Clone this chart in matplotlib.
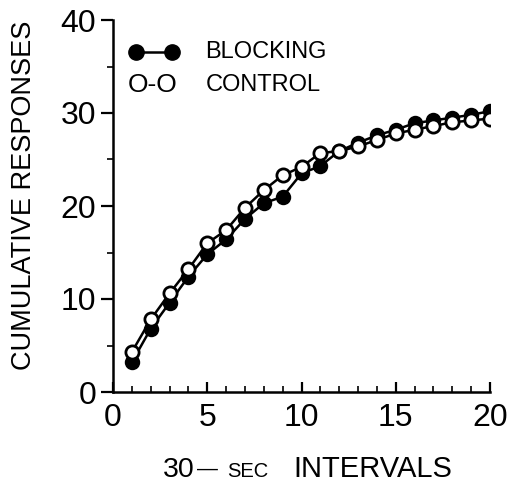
import matplotlib
matplotlib.use("Agg")
import matplotlib.pyplot as plt
from matplotlib.ticker import MultipleLocator

intervals = list(range(1, 21))
blocking = [3.2, 6.8, 9.6, 12.4, 14.8, 16.4, 18.6, 20.3, 21.0, 23.5,
            24.3, 25.9, 26.8, 27.6, 28.2, 28.9, 29.2, 29.5, 29.8, 30.2]
control = [4.3, 7.8, 10.6, 13.2, 16.0, 17.4, 19.8, 21.7, 23.3, 24.2,
           25.7, 25.9, 26.4, 27.1, 27.8, 28.2, 28.6, 29.0, 29.2, 29.4]

plt.rcParams['font.family'] = ['Liberation Sans', 'DejaVu Sans']

fig = plt.figure(figsize=(5.11, 4.87), dpi=100)
ax = fig.add_axes([113/511, 1-392/487, (490-113)/511, (392-20)/487])

ax.plot(intervals, blocking, '-o', color='black', lw=1.8, ms=9.5,
        mfc='black', mec='black', mew=1.6, zorder=3)
ax.plot(intervals, control, '-o', color='black', lw=1.8, ms=9.5,
        mfc='white', mec='black', mew=2.0, zorder=4)

ax.set_xlim(0, 20)
ax.set_ylim(0, 40)
ax.spines['top'].set_visible(False)
ax.spines['right'].set_visible(False)
for s in ('left', 'bottom'):
    ax.spines[s].set_linewidth(1.8)

ax.xaxis.set_major_locator(MultipleLocator(5))
ax.xaxis.set_minor_locator(MultipleLocator(1))
ax.yaxis.set_major_locator(MultipleLocator(10))
ax.yaxis.set_minor_locator(MultipleLocator(5))
ax.tick_params(axis='x', which='major', direction='in', length=7, width=1.6,
               labelsize=23, pad=8)
ax.tick_params(axis='x', which='minor', direction='in', length=4, width=1.2)
ax.tick_params(axis='y', which='major', direction='out', length=9, width=1.6,
               labelsize=23, pad=3)
ax.tick_params(axis='y', which='minor', direction='out', length=4, width=1.2)

# legend
ax.plot([0.060, 0.157], [0.914, 0.914], '-o', transform=ax.transAxes, color='black',
        lw=1.8, ms=11, mfc='black', mec='black', clip_on=False)
ax.text(0.245, 0.914, 'BLOCKING', transform=ax.transAxes, fontsize=17,
        va='center', ha='left')
ax.text(0.038, 0.825, 'O-O', transform=ax.transAxes, fontsize=19,
        va='center', ha='left')
ax.text(0.245, 0.825, 'CONTROL', transform=ax.transAxes, fontsize=17,
        va='center', ha='left')

fig.text(24/511, 1-195/487, 'CUMULATIVE RESPONSES', rotation=90, fontsize=19.5,
         ha='center', va='center')
yb = 1-477/487
fig.text(163/511, yb, '30', fontsize=20.5, ha='left', va='baseline')
fig.text(197/511, yb + 0.004, '\u2014', fontsize=15, ha='left', va='baseline')
fig.text(227/511, yb, 'SEC', fontsize=14.5, ha='left', va='baseline')
fig.text(293/511, yb, 'INTERVALS', fontsize=21, ha='left', va='baseline')

fig.savefig('out.png', dpi=100)
